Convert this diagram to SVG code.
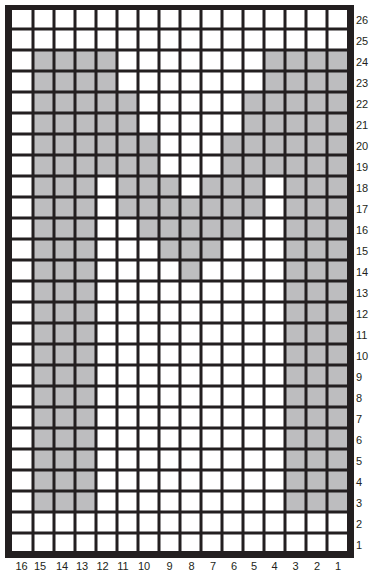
<svg xmlns="http://www.w3.org/2000/svg" width="370" height="573" viewBox="0 0 370 573">
<style>
.g{fill:#bdbdbf}
.ln{stroke:#231f20;stroke-width:3;fill:none}
.fr{fill:#231f20}
text{font-family:"Liberation Sans",Arial,sans-serif;font-size:11px;fill:#231f20}
.b{text-anchor:middle}
</style>
<rect x="0" y="0" width="370" height="573" fill="#ffffff"/>
<g id="cells">
<rect class="g" x="33" y="50" width="63" height="462"/>
<rect class="g" x="285" y="50" width="63" height="462"/>
<rect class="g" x="96" y="50" width="21" height="126"/>
<rect class="g" x="264" y="50" width="21" height="126"/>
<rect class="g" x="117" y="92" width="21" height="126"/>
<rect class="g" x="243" y="92" width="21" height="126"/>
<rect class="g" x="138" y="134" width="21" height="105"/>
<rect class="g" x="222" y="134" width="21" height="105"/>
<rect class="g" x="159" y="176" width="21" height="84"/>
<rect class="g" x="201" y="176" width="21" height="84"/>
<rect class="g" x="180" y="197" width="21" height="84"/>
</g>
<g id="grid">
<path class="ln" d="M33 8V554M54 8V554M75 8V554M96 8V554M117 8V554M138 8V554M159 8V554M180 8V554M201 8V554M222 8V554M243 8V554M264 8V554M285 8V554M306 8V554M327 8V554"/>
<path class="ln" d="M12 29H348M12 50H348M12 71H348M12 92H348M12 113H348M12 134H348M12 155H348M12 176H348M12 197H348M12 218H348M12 239H348M12 260H348M12 281H348M12 302H348M12 323H348M12 344H348M12 365H348M12 386H348M12 407H348M12 428H348M12 449H348M12 470H348M12 491H348M12 512H348M12 533H348"/>
</g>
<g id="frame">
<rect class="fr" x="5" y="5" width="349" height="5"/>
<rect class="fr" x="5" y="5" width="7" height="553"/>
<rect class="fr" x="347" y="5" width="7" height="553"/>
<rect class="fr" x="5" y="551" width="349" height="7"/>
</g>
<g id="row-labels">
<text x="356" y="24">26</text>
<text x="356" y="45">25</text>
<text x="356" y="66">24</text>
<text x="356" y="87">23</text>
<text x="356" y="108">22</text>
<text x="356" y="129">21</text>
<text x="356" y="150">20</text>
<text x="356" y="171">19</text>
<text x="356" y="192">18</text>
<text x="356" y="213">17</text>
<text x="356" y="234">16</text>
<text x="356" y="255">15</text>
<text x="356" y="276">14</text>
<text x="356" y="297">13</text>
<text x="356" y="318">12</text>
<text x="356" y="339">11</text>
<text x="356" y="360">10</text>
<text x="356" y="381">9</text>
<text x="356" y="402">8</text>
<text x="356" y="423">7</text>
<text x="356" y="444">6</text>
<text x="356" y="465">5</text>
<text x="356" y="486">4</text>
<text x="356" y="507">3</text>
<text x="356" y="528">2</text>
<text x="356" y="549">1</text>
</g>
<g id="col-labels">
<text class="b" x="21.5" y="570">16</text>
<text class="b" x="40" y="570">15</text>
<text class="b" x="62" y="570">14</text>
<text class="b" x="82" y="570">13</text>
<text class="b" x="102.5" y="570">12</text>
<text class="b" x="123" y="570">11</text>
<text class="b" x="144" y="570">10</text>
<text class="b" x="169.5" y="570">9</text>
<text class="b" x="191.5" y="570">8</text>
<text class="b" x="213" y="570">7</text>
<text class="b" x="234" y="570">6</text>
<text class="b" x="254" y="570">5</text>
<text class="b" x="274.5" y="570">4</text>
<text class="b" x="295.5" y="570">3</text>
<text class="b" x="317" y="570">2</text>
<text class="b" x="338" y="570">1</text>
</g>
</svg>
